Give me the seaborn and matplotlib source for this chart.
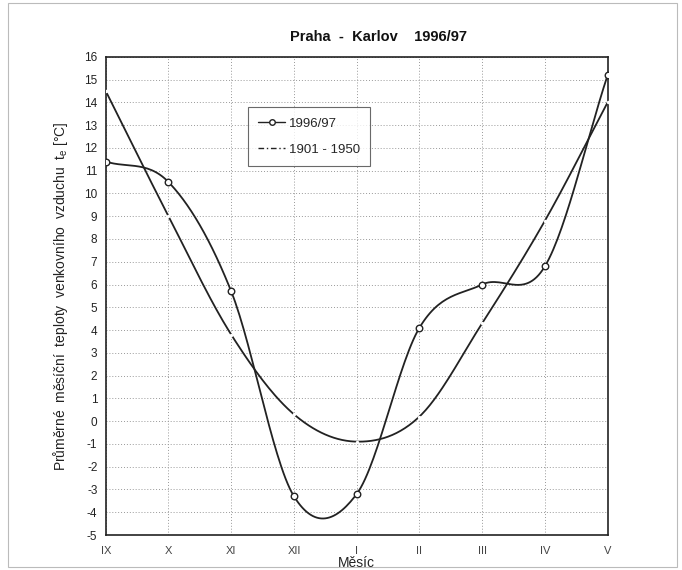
import numpy as np
import pandas as pd
import seaborn as sns
import matplotlib
matplotlib.use("Agg")
import matplotlib.pyplot as plt
from matplotlib.lines import Line2D
from matplotlib.patches import Rectangle

months = ["IX", "X", "XI", "XII", "I", "II", "III", "IV", "V"]
t_1996 = [11.4, 10.5, 5.7, -3.3, -3.2, 4.1, 6.0, 6.8, 15.2]
t_1901 = [14.5, 9.0, 3.8, 0.3, -0.9, 0.2, 4.3, 8.8, 14.0]
yticks = list(range(-5, 17))

sns.set_theme(style="white")
plt.rcParams['font.family'] = ['Liberation Sans', 'DejaVu Sans']
plt.rcParams['mathtext.fontset'] = 'custom'
plt.rcParams['mathtext.rm'] = 'Liberation Sans'


def catmull(x, y, n=30):
    x = np.asarray(x, float); y = np.asarray(y, float)
    px = np.concatenate([[2 * x[0] - x[1]], x, [2 * x[-1] - x[-2]]])
    py = np.concatenate([[2 * y[0] - y[1]], y, [2 * y[-1] - y[-2]]])
    xs, ys = [], []
    t = np.linspace(0, 1, n, endpoint=False)
    for i in range(1, len(px) - 2):
        p0, p1, p2, p3 = py[i - 1], py[i], py[i + 1], py[i + 2]
        q0, q1, q2, q3 = px[i - 1], px[i], px[i + 1], px[i + 2]
        f = lambda a0, a1, a2, a3: 0.5 * ((2 * a1) + (-a0 + a2) * t + (2 * a0 - 5 * a1 + 4 * a2 - a3) * t ** 2 + (-a0 + 3 * a1 - 3 * a2 + a3) * t ** 3)
        xs.append(f(q0, q1, q2, q3)); ys.append(f(p0, p1, p2, p3))
    xs.append([x[-1]]); ys.append([y[-1]])
    return np.concatenate(xs), np.concatenate(ys)


pos = np.arange(len(months))
fig = plt.figure(figsize=(6.82, 5.70), dpi=100)
ax = fig.add_axes([0.155, 0.0614, 0.736, 0.839])

sx, sy = catmull(pos, t_1996)
sns.lineplot(x=sx, y=sy, ax=ax, color="#222222", lw=1.3, sort=False, estimator=None)
sns.scatterplot(x=pos, y=t_1996, ax=ax, marker="o", s=22, facecolor="white", edgecolor="#222222", linewidth=1.0, zorder=5)

sx2, sy2 = catmull(pos, t_1901)
sns.lineplot(x=sx2, y=sy2, ax=ax, color="#222222", lw=1.3, sort=False, estimator=None)
sns.scatterplot(x=pos, y=t_1901, ax=ax, marker="o", s=6, color="white", linewidth=0, zorder=5)

ax.set_xlim(0, len(months) - 1)
ax.set_ylim(-5, 16)
ax.set_xticks(pos)
ax.set_xticklabels(months, fontsize=8, color="#444444")
ax.set_yticks(yticks)
ax.set_yticklabels([str(v) for v in yticks], fontsize=8.5, color="#222222")
ax.grid(True, color="#999999", linestyle=(0, (1, 2)), lw=0.7)
for s in ax.spines.values():
    s.set_color("#222222"); s.set_linewidth(1.2); s.set_visible(True)
ax.tick_params(axis="x", length=0, pad=8)
ax.tick_params(axis="y", length=0, pad=6)

ax.set_xlabel("Měsíc", fontsize=10, labelpad=0, color="#222222")
ax.set_ylabel("Průměrné  měsíční  teploty  venkovního  vzduchu  $\\mathrm{t_e}$ [°C]", fontsize=10, labelpad=10, color="#222222")
fig.text(0.555, 0.928, "Praha  -  Karlov    1996/97", ha="center", fontsize=10.5, fontweight="bold", color="#111111")

handles = [
    Line2D([], [], color="#222222", lw=1.0, marker="o", ms=4, mfc="white", mec="#222222"),
    Line2D([], [], color="#222222", lw=1.0, linestyle=(0, (4, 2, 1, 2))),
]
leg = ax.legend(handles, ["1996/97", "1901 - 1950"], loc="upper left", bbox_to_anchor=(0.283, 0.895),
                borderaxespad=0, frameon=True, fancybox=False, fontsize=9.5, handlelength=2.0,
                handletextpad=0.3, labelspacing=1.05, borderpad=0.8, edgecolor="#444444")
leg.get_frame().set_linewidth(0.8)

fig.patches.append(Rectangle((0.012, 0.005), 0.98, 0.99, transform=fig.transFigure, fill=False, edgecolor="#bbbbbb", lw=0.8))

fig.savefig("out.png", dpi=100)
